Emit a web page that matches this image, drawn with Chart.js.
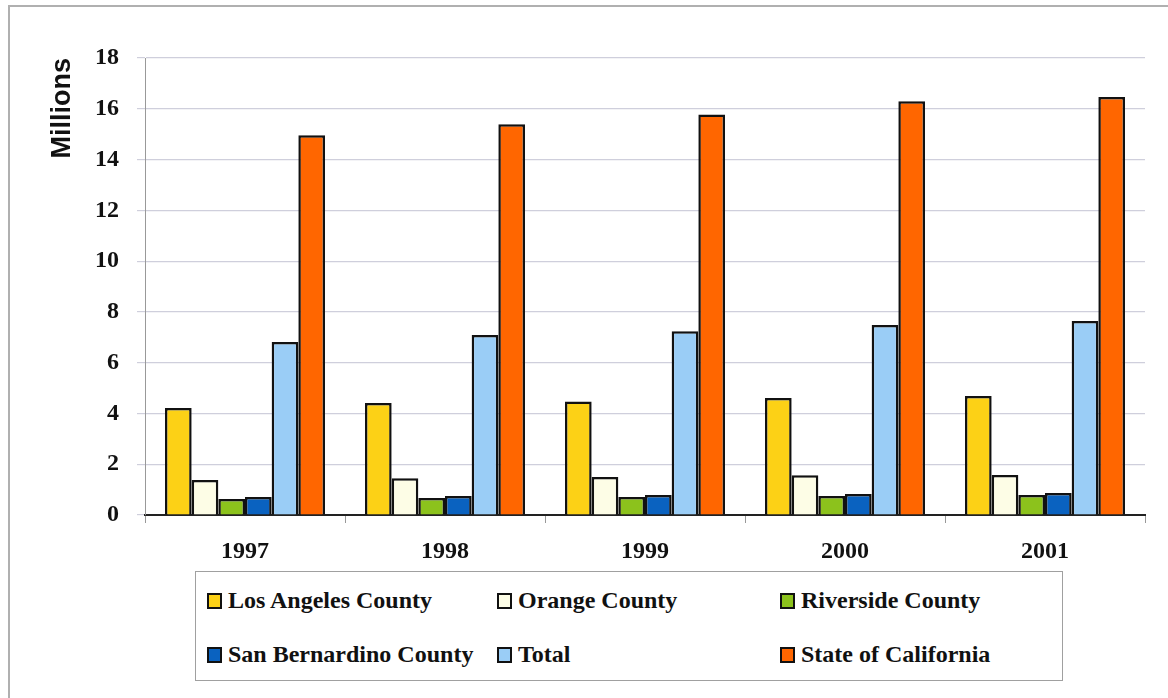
<!DOCTYPE html>
<html lang="en">
<head>
    <meta charset="UTF-8">
    <title>Population 1997-2001</title>
    <script src="https://cdn.jsdelivr.net/npm/chart.js"></script>
    <style>
        body { margin: 0; background: #fff; width: 1168px; height: 698px; overflow: hidden; position: relative; }
        #frame { position: absolute; left: 8px; top: 5px; width: 1200px; height: 800px; border-top: 2px solid #b0b0b0; border-left: 2px solid #b0b0b0; }
        #wrap { position: absolute; left: 0; top: 0; width: 1168px; height: 565px; }
        #legend { position: absolute; left: 195px; top: 571px; width: 866px; height: 108px; border: 1.5px solid #a0a0a0;
            font: bold 24px "Liberation Serif", "Times New Roman", serif; color: #111; }
        .item { position: absolute; display: flex; align-items: center; white-space: nowrap; }
        .box { width: 11px; height: 12px; border: 2px solid #111; margin-right: 6px; }
    </style>
</head>
<body>
    <div id="frame"></div>
    <div id="wrap"><canvas id="myChart"></canvas></div>
    <div id="legend"></div>
    <script>
        // years and populations in millions
        const years = ["1997", "1998", "1999", "2000", "2001"];
        const losAngeles = [4.21, 4.41, 4.47, 4.61, 4.69];
        const orange = [1.38, 1.45, 1.50, 1.57, 1.58];
        const riverside = [0.63, 0.67, 0.71, 0.75, 0.79];
        const sanBernardino = [0.71, 0.75, 0.79, 0.83, 0.87];
        const total = [6.81, 7.09, 7.24, 7.48, 7.64];
        const california = [14.96, 15.39, 15.77, 16.30, 16.46];
        const yTicks = [0, 2, 4, 6, 8, 10, 12, 14, 16, 18];

        const series = [
            { label: "Los Angeles County", data: losAngeles, color: "#fcd116" },
            { label: "Orange County", data: orange, color: "#fdfde6" },
            { label: "Riverside County", data: riverside, color: "#8cc21c" },
            { label: "San Bernardino County", data: sanBernardino, color: "#0a62c0" },
            { label: "Total", data: total, color: "#9acdf6" },
            { label: "State of California", data: california, color: "#ff6600" }
        ];

        const serif = "'Liberation Serif', 'Times New Roman', serif";

        new Chart(document.getElementById('myChart'), {
            type: 'bar',
            data: {
                labels: years,
                datasets: series.map(s => ({
                    label: s.label,
                    data: s.data,
                    backgroundColor: s.color,
                    borderColor: "#111",
                    borderWidth: 2.5,
                    categoryPercentage: 0.8,
                    barPercentage: 1.0
                }))
            },
            options: {
                responsive: true,
                maintainAspectRatio: false,
                animation: false,
                layout: { autoPadding: false, padding: { top: 58, right: 23, left: 0, bottom: 0 } },
                plugins: { legend: { display: false }, tooltip: { enabled: false } },
                scales: {
                    x: {
                        afterFit: s => { s.height = 50; },
                        grid: { drawOnChartArea: false, drawTicks: true, tickLength: 8, color: "#999" },
                        border: { color: "#222", width: 2 },
                        ticks: { color: "#111", padding: 14, font: { family: serif, size: 24, weight: "bold" } }
                    },
                    y: {
                        min: 0, max: 18,
                        afterFit: s => { s.width = 145; },
                        afterBuildTicks: s => { s.ticks = yTicks.map(v => ({ value: v })); },
                        grid: { color: "#cfcfdc", tickLength: 8, lineWidth: 1.2 },
                        border: { color: "#999" },
                        ticks: { color: "#111", padding: 18, font: { family: serif, size: 24, weight: "bold" } },
                        title: {
                            display: true, text: "Millions", align: "end", color: "#111",
                            font: { family: "'Liberation Sans', Arial, sans-serif", size: 27, weight: "bold" },
                            padding: { top: 46, bottom: 0 }
                        }
                    }
                }
            }
        });

        // legend built from the series, three columns
        const legend = document.getElementById('legend');
        const cols = [11, 301, 584];
        const rows = [15, 69];
        series.forEach((s, i) => {
            const el = document.createElement('div');
            el.className = 'item';
            el.style.left = cols[i % 3] + 'px';
            el.style.top = rows[Math.floor(i / 3)] + 'px';
            el.innerHTML = '<span class="box" style="background:' + s.color + '"></span>' + s.label;
            legend.appendChild(el);
        });
    </script>
</body>
</html>
